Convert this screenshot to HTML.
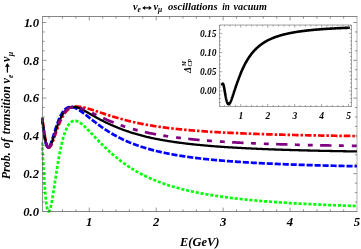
<!DOCTYPE html>
<html><head><meta charset="utf-8"><title>plot</title>
<style>html,body{margin:0;padding:0;background:#fff;width:361px;height:249px;overflow:hidden;font-family:"Liberation Serif",serif}</style>
</head><body>
<svg width="361" height="249" viewBox="0 0 361 249" style="position:absolute;left:0;top:0;will-change:transform">
<rect width="361" height="249" fill="#fff"/>
<defs><clipPath id="c"><rect x="40.9" y="16.5" width="316.7" height="197.0"/></clipPath><clipPath id="ci"><rect x="219.5" y="25.0" width="132.0" height="81.5"/></clipPath></defs>
<g clip-path="url(#c)" fill="none" stroke-linejoin="round">
<path d="M41.95,141.15 L42.13,144.18 L42.32,147.29 L42.50,150.45 L42.68,153.64 L42.86,156.83 L43.05,160.02 L43.23,163.18 L43.41,166.29 L43.59,169.36 L43.78,172.35 L43.96,175.27 L44.14,178.10 L44.32,180.83 L44.51,183.47 L44.69,185.99 L44.87,188.40 L45.05,190.70 L45.24,192.87 L45.42,194.92 L45.60,196.85 L45.78,198.65 L45.97,200.33 L46.15,201.88 L46.33,203.30 L46.52,204.61 L46.70,205.79 L46.88,206.85 L47.06,207.80 L47.25,208.63 L47.43,209.35 L47.61,209.96 L47.79,210.46 L47.98,210.86 L48.16,211.16 L48.34,211.36 L48.52,211.47 L48.71,211.50 L48.89,211.43 L49.07,211.29 L49.25,211.07 L49.44,210.77 L49.62,210.40 L49.80,209.97 L49.99,209.46 L50.17,208.90 L50.35,208.28 L50.53,207.61 L50.72,206.89 L50.90,206.12 L51.08,205.30 L51.26,204.44 L51.45,203.54 L51.63,202.61 L51.81,201.64 L51.99,200.65 L52.18,199.62 L52.36,198.57 L52.54,197.49 L52.72,196.40 L52.91,195.28 L53.09,194.15 L53.27,193.00 L53.46,191.84 L53.64,190.66 L53.82,189.48 L54.00,188.29 L54.19,187.09 L54.37,185.89 L54.55,184.68 L54.73,183.47 L54.92,182.26 L55.10,181.06 L55.28,179.85 L55.46,178.64 L55.65,177.44 L55.83,176.25 L56.01,175.06 L56.19,173.87 L56.38,172.69 L56.56,171.53 L56.74,170.36 L56.93,169.21 L57.11,168.07 L57.29,166.94 L57.47,165.82 L57.66,164.72 L57.84,163.62 L58.02,162.54 L58.20,161.47 L58.39,160.41 L58.57,159.37 L58.75,158.34 L58.93,157.33 L59.12,156.33 L59.30,155.34 L59.48,154.37 L59.66,153.41 L59.85,152.47 L60.03,151.55 L60.21,150.64 L60.40,149.75 L60.58,148.87 L60.76,148.00 L60.94,147.16 L61.13,146.33 L61.31,145.51 L61.49,144.71 L61.67,143.93 L61.86,143.16 L62.04,142.40 L62.22,141.67 L62.40,140.94 L62.59,140.24 L62.77,139.55 L62.95,138.87 L63.13,138.21 L63.32,137.56 L63.50,136.93 L63.68,136.32 L63.86,135.72 L64.05,135.13 L64.23,134.56 L64.41,134.00 L64.60,133.46 L64.78,132.93 L64.96,132.41 L65.14,131.91 L65.33,131.42 L65.51,130.95 L65.69,130.49 L65.87,130.04 L66.06,129.60 L66.24,129.18 L66.42,128.77 L66.60,128.37 L66.79,127.99 L66.97,127.61 L67.15,127.25 L67.33,126.90 L67.52,126.57 L67.70,126.24 L67.88,125.93 L68.07,125.62 L68.25,125.33 L68.43,125.05 L68.61,124.78 L68.80,124.52 L68.98,124.27 L69.16,124.03 L69.34,123.80 L69.53,123.57 L69.71,123.36 L69.89,123.16 L70.07,122.97 L70.26,122.79 L70.44,122.61 L70.62,122.45 L70.80,122.29 L70.99,122.15 L71.17,122.01 L71.35,121.88 L71.54,121.75 L71.72,121.64 L71.90,121.53 L72.08,121.43 L72.27,121.34 L72.45,121.26 L72.63,121.18 L72.81,121.11 L73.00,121.05 L73.18,120.99 L73.36,120.94 L73.54,120.90 L73.73,120.86 L73.91,120.83 L74.09,120.81 L74.27,120.79 L74.46,120.78 L74.64,120.78 L74.82,120.78 L75.01,120.78 L75.19,120.79 L75.37,120.81 L75.55,120.83 L75.74,120.86 L75.92,120.89 L76.10,120.93 L76.28,120.97 L76.47,121.02 L76.65,121.07 L76.83,121.12 L77.01,121.18 L77.20,121.25 L77.38,121.32 L77.56,121.39 L77.74,121.47 L77.93,121.55 L78.11,121.63 L78.29,121.72 L78.48,121.81 L78.66,121.91 L78.84,122.01 L79.02,122.11 L79.21,122.22 L79.39,122.32 L79.57,122.44 L79.75,122.55 L79.94,122.67 L80.12,122.79 L80.30,122.91 L80.48,123.04 L80.67,123.17 L80.85,123.30 L81.03,123.43 L81.21,123.57 L81.40,123.71 L81.58,123.85 L81.76,123.99 L81.94,124.14 L82.13,124.29 L82.31,124.44 L82.49,124.59 L82.68,124.74 L82.86,124.90 L83.04,125.05 L83.22,125.21 L83.41,125.37 L83.59,125.53 L83.77,125.70 L83.95,125.86 L84.14,126.03 L84.32,126.20 L84.50,126.36 L84.68,126.53 L84.87,126.71 L85.05,126.88 L85.23,127.05 L85.41,127.23 L85.60,127.40 L85.78,127.58 L85.96,127.76 L86.15,127.94 L86.33,128.11 L86.51,128.29 L86.69,128.48 L86.88,128.66 L87.06,128.84 L87.24,129.02 L87.42,129.21 L87.61,129.39 L87.79,129.58 L87.97,129.76 L88.15,129.95 L88.34,130.13 L88.52,130.32 L88.70,130.51 L88.88,130.70 L89.07,130.88 L89.25,131.07 L90.15,132.01 L91.04,132.95 L91.94,133.90 L92.83,134.85 L93.73,135.80 L94.62,136.76 L95.52,137.71 L96.42,138.65 L97.31,139.59 L98.21,140.53 L99.10,141.46 L100.00,142.38 L100.89,143.30 L101.79,144.20 L102.68,145.10 L103.58,145.98 L104.48,146.86 L105.37,147.73 L106.27,148.58 L107.16,149.43 L108.06,150.27 L108.95,151.09 L109.85,151.91 L110.75,152.71 L111.64,153.50 L112.54,154.29 L113.43,155.06 L114.33,155.82 L115.22,156.57 L116.12,157.31 L117.02,158.04 L117.91,158.76 L118.81,159.47 L119.70,160.17 L120.60,160.85 L121.49,161.53 L122.39,162.20 L123.28,162.86 L124.18,163.50 L125.08,164.14 L125.97,164.77 L126.87,165.38 L127.76,165.99 L128.66,166.59 L129.55,167.18 L130.45,167.76 L131.35,168.33 L132.24,168.89 L133.14,169.44 L134.03,169.98 L134.93,170.51 L135.82,171.04 L136.72,171.55 L137.62,172.06 L138.51,172.56 L139.41,173.05 L140.30,173.53 L141.20,174.00 L142.09,174.47 L142.99,174.93 L143.88,175.38 L144.78,175.82 L145.68,176.26 L146.57,176.68 L147.47,177.11 L148.36,177.52 L149.26,177.93 L150.15,178.33 L151.05,178.72 L151.95,179.11 L152.84,179.49 L153.74,179.87 L154.63,180.24 L155.53,180.60 L156.42,180.96 L157.32,181.31 L158.22,181.66 L159.11,182.00 L160.01,182.33 L160.90,182.66 L161.80,182.99 L162.69,183.31 L163.59,183.62 L164.48,183.93 L165.38,184.24 L166.28,184.54 L167.17,184.83 L168.07,185.12 L168.96,185.41 L169.86,185.69 L170.75,185.97 L171.65,186.24 L172.55,186.51 L173.44,186.78 L174.34,187.04 L175.23,187.29 L176.13,187.55 L177.02,187.80 L177.92,188.04 L178.82,188.28 L179.71,188.52 L180.61,188.76 L181.50,188.99 L182.40,189.22 L183.29,189.44 L184.19,189.67 L185.08,189.88 L185.98,190.10 L186.88,190.31 L187.77,190.52 L188.67,190.73 L189.56,190.93 L190.46,191.13 L191.35,191.33 L192.25,191.52 L193.15,191.72 L194.04,191.91 L194.94,192.09 L195.83,192.28 L196.73,192.46 L197.62,192.64 L198.52,192.82 L199.42,192.99 L200.31,193.16 L201.21,193.33 L202.10,193.50 L203.00,193.67 L203.89,193.83 L204.79,193.99 L205.68,194.15 L206.58,194.30 L207.48,194.46 L208.37,194.61 L209.27,194.76 L210.16,194.91 L211.06,195.06 L211.95,195.20 L212.85,195.35 L213.75,195.49 L214.64,195.63 L215.54,195.77 L216.43,195.90 L217.33,196.04 L218.22,196.17 L219.12,196.30 L220.02,196.43 L220.91,196.56 L221.81,196.68 L222.70,196.81 L223.60,196.93 L224.49,197.05 L225.39,197.17 L226.28,197.29 L227.18,197.41 L228.08,197.52 L228.97,197.64 L229.87,197.75 L230.76,197.86 L231.66,197.97 L232.55,198.08 L233.45,198.19 L234.35,198.29 L235.24,198.40 L236.14,198.50 L237.03,198.61 L237.93,198.71 L238.82,198.81 L239.72,198.91 L240.62,199.01 L241.51,199.10 L242.41,199.20 L243.30,199.29 L244.20,199.39 L245.09,199.48 L245.99,199.57 L246.88,199.66 L247.78,199.75 L248.68,199.84 L249.57,199.93 L250.47,200.01 L251.36,200.10 L252.26,200.19 L253.15,200.27 L254.05,200.35 L254.95,200.43 L255.84,200.52 L256.74,200.60 L257.63,200.67 L258.53,200.75 L259.42,200.83 L260.32,200.91 L261.22,200.98 L262.11,201.06 L263.01,201.13 L263.90,201.21 L264.80,201.28 L265.69,201.35 L266.59,201.42 L267.48,201.49 L268.38,201.56 L269.28,201.63 L270.17,201.70 L271.07,201.77 L271.96,201.84 L272.86,201.90 L273.75,201.97 L274.65,202.03 L275.55,202.10 L276.44,202.16 L277.34,202.23 L278.23,202.29 L279.13,202.35 L280.02,202.41 L280.92,202.47 L281.82,202.53 L282.71,202.59 L283.61,202.65 L284.50,202.71 L285.40,202.77 L286.29,202.82 L287.19,202.88 L288.08,202.94 L288.98,202.99 L289.88,203.05 L290.77,203.10 L291.67,203.16 L292.56,203.21 L293.46,203.26 L294.35,203.31 L295.25,203.37 L296.15,203.42 L297.04,203.47 L297.94,203.52 L298.83,203.57 L299.73,203.62 L300.62,203.67 L301.52,203.72 L302.42,203.77 L303.31,203.81 L304.21,203.86 L305.10,203.91 L306.00,203.95 L306.89,204.00 L307.79,204.05 L308.68,204.09 L309.58,204.14 L310.48,204.18 L311.37,204.22 L312.27,204.27 L313.16,204.31 L314.06,204.35 L314.95,204.40 L315.85,204.44 L316.75,204.48 L317.64,204.52 L318.54,204.56 L319.43,204.60 L320.33,204.64 L321.22,204.68 L322.12,204.72 L323.02,204.76 L323.91,204.80 L324.81,204.84 L325.70,204.88 L326.60,204.92 L327.49,204.95 L328.39,204.99 L329.28,205.03 L330.18,205.07 L331.08,205.10 L331.97,205.14 L332.87,205.17 L333.76,205.21 L334.66,205.24 L335.55,205.28 L336.45,205.31 L337.35,205.35 L338.24,205.38 L339.14,205.42 L340.03,205.45 L340.93,205.48 L341.82,205.52 L342.72,205.55 L343.62,205.58 L344.51,205.61 L345.41,205.64 L346.30,205.68 L347.20,205.71 L348.09,205.74 L348.99,205.77 L349.88,205.80 L350.78,205.83 L351.68,205.86 L352.57,205.89 L353.47,205.92 L354.36,205.95 L355.26,205.98 L356.15,206.01 L357.05,206.04" stroke="#00ff00" stroke-width="2.7" stroke-dasharray="3.05 1.88" stroke-dashoffset="3.6"/>
<path d="M42.22,117.27 L42.40,118.63 L42.58,120.01 L42.76,121.40 L42.94,122.80 L43.13,124.20 L43.31,125.58 L43.49,126.95 L43.67,128.30 L43.85,129.62 L44.03,130.91 L44.22,132.17 L44.40,133.38 L44.58,134.55 L44.76,135.67 L44.94,136.75 L45.12,137.78 L45.30,138.76 L45.49,139.68 L45.67,140.55 L45.85,141.37 L46.03,142.14 L46.21,142.85 L46.39,143.51 L46.58,144.11 L46.76,144.67 L46.94,145.17 L47.12,145.62 L47.30,146.02 L47.48,146.37 L47.67,146.68 L47.85,146.94 L48.03,147.15 L48.21,147.32 L48.39,147.45 L48.57,147.54 L48.75,147.59 L48.94,147.60 L49.12,147.57 L49.30,147.51 L49.48,147.42 L49.66,147.29 L49.84,147.14 L50.03,146.95 L50.21,146.74 L50.39,146.50 L50.57,146.24 L50.75,145.96 L50.93,145.65 L51.12,145.32 L51.30,144.97 L51.48,144.61 L51.66,144.22 L51.84,143.82 L52.02,143.41 L52.21,142.98 L52.39,142.55 L52.57,142.10 L52.75,141.64 L52.93,141.17 L53.11,140.69 L53.29,140.20 L53.48,139.71 L53.66,139.21 L53.84,138.70 L54.02,138.19 L54.20,137.68 L54.38,137.16 L54.57,136.64 L54.75,136.12 L54.93,135.60 L55.11,135.07 L55.29,134.55 L55.47,134.02 L55.66,133.50 L55.84,132.97 L56.02,132.45 L56.20,131.93 L56.38,131.41 L56.56,130.90 L56.74,130.39 L56.93,129.88 L57.11,129.37 L57.29,128.87 L57.47,128.37 L57.65,127.88 L57.83,127.39 L58.02,126.90 L58.20,126.43 L58.38,125.95 L58.56,125.48 L58.74,125.02 L58.92,124.56 L59.11,124.11 L59.29,123.66 L59.47,123.22 L59.65,122.79 L59.83,122.36 L60.01,121.94 L60.20,121.52 L60.38,121.11 L60.56,120.71 L60.74,120.32 L60.92,119.93 L61.10,119.54 L61.28,119.17 L61.47,118.80 L61.65,118.43 L61.83,118.08 L62.01,117.73 L62.19,117.38 L62.37,117.04 L62.56,116.71 L62.74,116.39 L62.92,116.07 L63.10,115.76 L63.28,115.46 L63.46,115.16 L63.65,114.87 L63.83,114.58 L64.01,114.30 L64.19,114.03 L64.37,113.76 L64.55,113.50 L64.74,113.25 L64.92,113.00 L65.10,112.76 L65.28,112.52 L65.46,112.29 L65.64,112.07 L65.82,111.85 L66.01,111.63 L66.19,111.43 L66.37,111.23 L66.55,111.03 L66.73,110.84 L66.91,110.65 L67.10,110.47 L67.28,110.30 L67.46,110.13 L67.64,109.97 L67.82,109.81 L68.00,109.65 L68.19,109.50 L68.37,109.36 L68.55,109.22 L68.73,109.08 L68.91,108.95 L69.09,108.83 L69.27,108.71 L69.46,108.59 L69.64,108.48 L69.82,108.37 L70.00,108.26 L70.18,108.16 L70.36,108.07 L70.55,107.98 L70.73,107.89 L70.91,107.80 L71.09,107.72 L71.27,107.64 L71.45,107.57 L71.64,107.50 L71.82,107.43 L72.00,107.37 L72.18,107.31 L72.36,107.25 L72.54,107.20 L72.73,107.15 L72.91,107.10 L73.09,107.06 L73.27,107.01 L73.45,106.97 L73.63,106.94 L73.81,106.90 L74.00,106.87 L74.18,106.84 L74.36,106.82 L74.54,106.79 L74.72,106.77 L74.90,106.75 L75.09,106.73 L75.27,106.72 L75.45,106.70 L75.63,106.69 L75.81,106.68 L75.99,106.67 L76.18,106.67 L76.36,106.66 L76.54,106.66 L76.72,106.66 L76.90,106.66 L77.08,106.66 L77.26,106.67 L77.45,106.67 L77.63,106.68 L77.81,106.68 L77.99,106.69 L78.17,106.70 L78.35,106.71 L78.54,106.73 L78.72,106.74 L78.90,106.75 L79.08,106.77 L79.26,106.78 L79.44,106.80 L79.63,106.82 L79.81,106.84 L79.99,106.86 L80.17,106.88 L80.35,106.90 L80.53,106.93 L80.72,106.95 L80.90,106.97 L81.08,107.00 L81.26,107.03 L81.44,107.06 L81.62,107.09 L81.80,107.12 L81.99,107.15 L82.17,107.18 L82.35,107.22 L82.53,107.25 L82.71,107.29 L82.89,107.32 L83.08,107.36 L83.26,107.40 L83.44,107.43 L83.62,107.47 L83.80,107.51 L83.98,107.55 L84.17,107.60 L84.35,107.64 L84.53,107.68 L84.71,107.72 L84.89,107.77 L85.07,107.81 L85.25,107.86 L85.44,107.90 L85.62,107.95 L85.80,108.00 L85.98,108.04 L86.16,108.09 L86.34,108.14 L86.53,108.19 L86.71,108.24 L86.89,108.29 L87.07,108.34 L87.25,108.39 L87.43,108.44 L87.62,108.49 L87.80,108.54 L87.98,108.59 L88.16,108.65 L88.34,108.70 L88.52,108.75 L88.71,108.81 L88.89,108.86 L89.07,108.91 L89.25,108.97 L90.15,109.24 L91.04,109.52 L91.94,109.80 L92.83,110.09 L93.73,110.38 L94.62,110.67 L95.52,110.96 L96.42,111.25 L97.31,111.55 L98.21,111.85 L99.10,112.14 L100.00,112.44 L100.89,112.73 L101.79,113.03 L102.68,113.32 L103.58,113.61 L104.48,113.90 L105.37,114.19 L106.27,114.48 L107.16,114.77 L108.06,115.06 L108.95,115.34 L109.85,115.62 L110.75,115.90 L111.64,116.18 L112.54,116.45 L113.43,116.73 L114.33,117.00 L115.22,117.26 L116.12,117.53 L117.02,117.79 L117.91,118.05 L118.81,118.31 L119.70,118.56 L120.60,118.81 L121.49,119.06 L122.39,119.31 L123.28,119.55 L124.18,119.79 L125.08,120.03 L125.97,120.26 L126.87,120.49 L127.76,120.71 L128.66,120.94 L129.55,121.16 L130.45,121.37 L131.35,121.59 L132.24,121.80 L133.14,122.00 L134.03,122.21 L134.93,122.41 L135.82,122.61 L136.72,122.80 L137.62,122.99 L138.51,123.18 L139.41,123.37 L140.30,123.55 L141.20,123.73 L142.09,123.91 L142.99,124.08 L143.88,124.25 L144.78,124.42 L145.68,124.59 L146.57,124.75 L147.47,124.91 L148.36,125.07 L149.26,125.22 L150.15,125.38 L151.05,125.53 L151.95,125.67 L152.84,125.82 L153.74,125.96 L154.63,126.10 L155.53,126.24 L156.42,126.38 L157.32,126.51 L158.22,126.65 L159.11,126.78 L160.01,126.91 L160.90,127.03 L161.80,127.16 L162.69,127.28 L163.59,127.40 L164.48,127.52 L165.38,127.63 L166.28,127.75 L167.17,127.86 L168.07,127.97 L168.96,128.08 L169.86,128.19 L170.75,128.30 L171.65,128.40 L172.55,128.51 L173.44,128.61 L174.34,128.71 L175.23,128.81 L176.13,128.91 L177.02,129.00 L177.92,129.10 L178.82,129.19 L179.71,129.28 L180.61,129.37 L181.50,129.46 L182.40,129.55 L183.29,129.64 L184.19,129.72 L185.08,129.81 L185.98,129.89 L186.88,129.97 L187.77,130.05 L188.67,130.13 L189.56,130.21 L190.46,130.29 L191.35,130.36 L192.25,130.44 L193.15,130.51 L194.04,130.58 L194.94,130.66 L195.83,130.73 L196.73,130.80 L197.62,130.87 L198.52,130.94 L199.42,131.00 L200.31,131.07 L201.21,131.13 L202.10,131.20 L203.00,131.26 L203.89,131.33 L204.79,131.39 L205.68,131.45 L206.58,131.51 L207.48,131.57 L208.37,131.63 L209.27,131.69 L210.16,131.74 L211.06,131.80 L211.95,131.86 L212.85,131.91 L213.75,131.97 L214.64,132.02 L215.54,132.07 L216.43,132.13 L217.33,132.18 L218.22,132.23 L219.12,132.28 L220.02,132.33 L220.91,132.38 L221.81,132.43 L222.70,132.48 L223.60,132.53 L224.49,132.57 L225.39,132.62 L226.28,132.66 L227.18,132.71 L228.08,132.75 L228.97,132.80 L229.87,132.84 L230.76,132.89 L231.66,132.93 L232.55,132.97 L233.45,133.01 L234.35,133.05 L235.24,133.09 L236.14,133.13 L237.03,133.17 L237.93,133.21 L238.82,133.25 L239.72,133.29 L240.62,133.33 L241.51,133.37 L242.41,133.40 L243.30,133.44 L244.20,133.48 L245.09,133.51 L245.99,133.55 L246.88,133.58 L247.78,133.62 L248.68,133.65 L249.57,133.69 L250.47,133.72 L251.36,133.75 L252.26,133.79 L253.15,133.82 L254.05,133.85 L254.95,133.88 L255.84,133.91 L256.74,133.95 L257.63,133.98 L258.53,134.01 L259.42,134.04 L260.32,134.07 L261.22,134.10 L262.11,134.13 L263.01,134.15 L263.90,134.18 L264.80,134.21 L265.69,134.24 L266.59,134.27 L267.48,134.29 L268.38,134.32 L269.28,134.35 L270.17,134.37 L271.07,134.40 L271.96,134.43 L272.86,134.45 L273.75,134.48 L274.65,134.50 L275.55,134.53 L276.44,134.55 L277.34,134.58 L278.23,134.60 L279.13,134.63 L280.02,134.65 L280.92,134.67 L281.82,134.70 L282.71,134.72 L283.61,134.74 L284.50,134.77 L285.40,134.79 L286.29,134.81 L287.19,134.83 L288.08,134.85 L288.98,134.88 L289.88,134.90 L290.77,134.92 L291.67,134.94 L292.56,134.96 L293.46,134.98 L294.35,135.00 L295.25,135.02 L296.15,135.04 L297.04,135.06 L297.94,135.08 L298.83,135.10 L299.73,135.12 L300.62,135.14 L301.52,135.16 L302.42,135.18 L303.31,135.19 L304.21,135.21 L305.10,135.23 L306.00,135.25 L306.89,135.27 L307.79,135.28 L308.68,135.30 L309.58,135.32 L310.48,135.34 L311.37,135.35 L312.27,135.37 L313.16,135.39 L314.06,135.40 L314.95,135.42 L315.85,135.44 L316.75,135.45 L317.64,135.47 L318.54,135.49 L319.43,135.50 L320.33,135.52 L321.22,135.53 L322.12,135.55 L323.02,135.56 L323.91,135.58 L324.81,135.59 L325.70,135.61 L326.60,135.62 L327.49,135.64 L328.39,135.65 L329.28,135.67 L330.18,135.68 L331.08,135.70 L331.97,135.71 L332.87,135.72 L333.76,135.74 L334.66,135.75 L335.55,135.76 L336.45,135.78 L337.35,135.79 L338.24,135.80 L339.14,135.82 L340.03,135.83 L340.93,135.84 L341.82,135.86 L342.72,135.87 L343.62,135.88 L344.51,135.89 L345.41,135.91 L346.30,135.92 L347.20,135.93 L348.09,135.94 L348.99,135.96 L349.88,135.97 L350.78,135.98 L351.68,135.99 L352.57,136.00 L353.47,136.01 L354.36,136.03 L355.26,136.04 L356.15,136.05 L357.05,136.06" stroke="#ff0000" stroke-width="2.7" stroke-dasharray="6.6 1.95 2.5 1.9" stroke-dashoffset="8.46"/>
<path d="M42.22,119.98 L42.40,121.43 L42.58,122.90 L42.76,124.36 L42.94,125.81 L43.13,127.24 L43.31,128.65 L43.49,130.03 L43.67,131.37 L43.85,132.67 L44.03,133.92 L44.22,135.13 L44.40,136.28 L44.58,137.38 L44.76,138.42 L44.94,139.41 L45.12,140.33 L45.30,141.20 L45.49,142.01 L45.67,142.75 L45.85,143.44 L46.03,144.06 L46.21,144.63 L46.39,145.14 L46.58,145.59 L46.76,145.98 L46.94,146.32 L47.12,146.61 L47.30,146.84 L47.48,147.02 L47.67,147.15 L47.85,147.24 L48.03,147.28 L48.21,147.27 L48.39,147.23 L48.57,147.14 L48.75,147.01 L48.94,146.85 L49.12,146.65 L49.30,146.42 L49.48,146.16 L49.66,145.87 L49.84,145.55 L50.03,145.20 L50.21,144.83 L50.39,144.43 L50.57,144.02 L50.75,143.58 L50.93,143.13 L51.12,142.66 L51.30,142.17 L51.48,141.67 L51.66,141.15 L51.84,140.62 L52.02,140.08 L52.21,139.54 L52.39,138.98 L52.57,138.42 L52.75,137.85 L52.93,137.27 L53.11,136.69 L53.29,136.11 L53.48,135.52 L53.66,134.93 L53.84,134.34 L54.02,133.75 L54.20,133.16 L54.38,132.57 L54.57,131.98 L54.75,131.39 L54.93,130.81 L55.11,130.23 L55.29,129.65 L55.47,129.08 L55.66,128.51 L55.84,127.95 L56.02,127.39 L56.20,126.83 L56.38,126.29 L56.56,125.75 L56.74,125.21 L56.93,124.68 L57.11,124.16 L57.29,123.65 L57.47,123.14 L57.65,122.64 L57.83,122.15 L58.02,121.67 L58.20,121.19 L58.38,120.72 L58.56,120.26 L58.74,119.81 L58.92,119.37 L59.11,118.93 L59.29,118.51 L59.47,118.09 L59.65,117.68 L59.83,117.28 L60.01,116.89 L60.20,116.51 L60.38,116.13 L60.56,115.77 L60.74,115.41 L60.92,115.06 L61.10,114.72 L61.28,114.39 L61.47,114.07 L61.65,113.75 L61.83,113.45 L62.01,113.15 L62.19,112.86 L62.37,112.58 L62.56,112.31 L62.74,112.04 L62.92,111.78 L63.10,111.53 L63.28,111.29 L63.46,111.06 L63.65,110.83 L63.83,110.61 L64.01,110.40 L64.19,110.20 L64.37,110.00 L64.55,109.81 L64.74,109.63 L64.92,109.45 L65.10,109.29 L65.28,109.12 L65.46,108.97 L65.64,108.82 L65.82,108.68 L66.01,108.54 L66.19,108.42 L66.37,108.29 L66.55,108.18 L66.73,108.07 L66.91,107.96 L67.10,107.86 L67.28,107.77 L67.46,107.68 L67.64,107.60 L67.82,107.53 L68.00,107.45 L68.19,107.39 L68.37,107.33 L68.55,107.27 L68.73,107.22 L68.91,107.18 L69.09,107.14 L69.27,107.10 L69.46,107.07 L69.64,107.04 L69.82,107.02 L70.00,107.00 L70.18,106.99 L70.36,106.98 L70.55,106.98 L70.73,106.97 L70.91,106.98 L71.09,106.98 L71.27,106.99 L71.45,107.01 L71.64,107.03 L71.82,107.05 L72.00,107.07 L72.18,107.10 L72.36,107.13 L72.54,107.17 L72.73,107.21 L72.91,107.25 L73.09,107.29 L73.27,107.34 L73.45,107.39 L73.63,107.44 L73.81,107.50 L74.00,107.56 L74.18,107.62 L74.36,107.68 L74.54,107.75 L74.72,107.82 L74.90,107.89 L75.09,107.96 L75.27,108.04 L75.45,108.12 L75.63,108.20 L75.81,108.28 L75.99,108.37 L76.18,108.45 L76.36,108.54 L76.54,108.63 L76.72,108.73 L76.90,108.82 L77.08,108.92 L77.26,109.01 L77.45,109.11 L77.63,109.22 L77.81,109.32 L77.99,109.42 L78.17,109.53 L78.35,109.64 L78.54,109.75 L78.72,109.86 L78.90,109.97 L79.08,110.08 L79.26,110.20 L79.44,110.31 L79.63,110.43 L79.81,110.55 L79.99,110.67 L80.17,110.79 L80.35,110.91 L80.53,111.03 L80.72,111.15 L80.90,111.28 L81.08,111.40 L81.26,111.53 L81.44,111.66 L81.62,111.79 L81.80,111.92 L81.99,112.04 L82.17,112.18 L82.35,112.31 L82.53,112.44 L82.71,112.57 L82.89,112.70 L83.08,112.84 L83.26,112.97 L83.44,113.11 L83.62,113.24 L83.80,113.38 L83.98,113.52 L84.17,113.65 L84.35,113.79 L84.53,113.93 L84.71,114.07 L84.89,114.21 L85.07,114.35 L85.25,114.49 L85.44,114.63 L85.62,114.77 L85.80,114.91 L85.98,115.05 L86.16,115.19 L86.34,115.33 L86.53,115.47 L86.71,115.61 L86.89,115.76 L87.07,115.90 L87.25,116.04 L87.43,116.18 L87.62,116.33 L87.80,116.47 L87.98,116.61 L88.16,116.76 L88.34,116.90 L88.52,117.04 L88.71,117.19 L88.89,117.33 L89.07,117.47 L89.25,117.62 L90.15,118.32 L91.04,119.03 L91.94,119.74 L92.83,120.44 L93.73,121.14 L94.62,121.83 L95.52,122.52 L96.42,123.20 L97.31,123.87 L98.21,124.54 L99.10,125.20 L100.00,125.85 L100.89,126.49 L101.79,127.13 L102.68,127.75 L103.58,128.37 L104.48,128.98 L105.37,129.57 L106.27,130.16 L107.16,130.74 L108.06,131.31 L108.95,131.88 L109.85,132.43 L110.75,132.97 L111.64,133.50 L112.54,134.03 L113.43,134.55 L114.33,135.05 L115.22,135.55 L116.12,136.04 L117.02,136.52 L117.91,136.99 L118.81,137.46 L119.70,137.91 L120.60,138.36 L121.49,138.80 L122.39,139.23 L123.28,139.66 L124.18,140.07 L125.08,140.48 L125.97,140.88 L126.87,141.28 L127.76,141.66 L128.66,142.04 L129.55,142.42 L130.45,142.78 L131.35,143.14 L132.24,143.50 L133.14,143.84 L134.03,144.18 L134.93,144.52 L135.82,144.85 L136.72,145.17 L137.62,145.49 L138.51,145.80 L139.41,146.11 L140.30,146.41 L141.20,146.70 L142.09,146.99 L142.99,147.28 L143.88,147.56 L144.78,147.83 L145.68,148.10 L146.57,148.37 L147.47,148.63 L148.36,148.89 L149.26,149.14 L150.15,149.39 L151.05,149.63 L151.95,149.87 L152.84,150.11 L153.74,150.34 L154.63,150.57 L155.53,150.79 L156.42,151.01 L157.32,151.23 L158.22,151.44 L159.11,151.65 L160.01,151.86 L160.90,152.06 L161.80,152.26 L162.69,152.46 L163.59,152.65 L164.48,152.84 L165.38,153.03 L166.28,153.21 L167.17,153.39 L168.07,153.57 L168.96,153.75 L169.86,153.92 L170.75,154.09 L171.65,154.26 L172.55,154.42 L173.44,154.58 L174.34,154.74 L175.23,154.90 L176.13,155.06 L177.02,155.21 L177.92,155.36 L178.82,155.51 L179.71,155.65 L180.61,155.80 L181.50,155.94 L182.40,156.08 L183.29,156.21 L184.19,156.35 L185.08,156.48 L185.98,156.61 L186.88,156.74 L187.77,156.87 L188.67,157.00 L189.56,157.12 L190.46,157.24 L191.35,157.36 L192.25,157.48 L193.15,157.60 L194.04,157.71 L194.94,157.83 L195.83,157.94 L196.73,158.05 L197.62,158.16 L198.52,158.27 L199.42,158.37 L200.31,158.48 L201.21,158.58 L202.10,158.68 L203.00,158.78 L203.89,158.88 L204.79,158.98 L205.68,159.08 L206.58,159.17 L207.48,159.26 L208.37,159.36 L209.27,159.45 L210.16,159.54 L211.06,159.63 L211.95,159.72 L212.85,159.80 L213.75,159.89 L214.64,159.97 L215.54,160.06 L216.43,160.14 L217.33,160.22 L218.22,160.30 L219.12,160.38 L220.02,160.46 L220.91,160.53 L221.81,160.61 L222.70,160.69 L223.60,160.76 L224.49,160.83 L225.39,160.91 L226.28,160.98 L227.18,161.05 L228.08,161.12 L228.97,161.19 L229.87,161.26 L230.76,161.32 L231.66,161.39 L232.55,161.46 L233.45,161.52 L234.35,161.59 L235.24,161.65 L236.14,161.71 L237.03,161.78 L237.93,161.84 L238.82,161.90 L239.72,161.96 L240.62,162.02 L241.51,162.08 L242.41,162.13 L243.30,162.19 L244.20,162.25 L245.09,162.30 L245.99,162.36 L246.88,162.41 L247.78,162.47 L248.68,162.52 L249.57,162.57 L250.47,162.63 L251.36,162.68 L252.26,162.73 L253.15,162.78 L254.05,162.83 L254.95,162.88 L255.84,162.93 L256.74,162.98 L257.63,163.02 L258.53,163.07 L259.42,163.12 L260.32,163.16 L261.22,163.21 L262.11,163.26 L263.01,163.30 L263.90,163.35 L264.80,163.39 L265.69,163.43 L266.59,163.48 L267.48,163.52 L268.38,163.56 L269.28,163.60 L270.17,163.64 L271.07,163.68 L271.96,163.72 L272.86,163.76 L273.75,163.80 L274.65,163.84 L275.55,163.88 L276.44,163.92 L277.34,163.96 L278.23,164.00 L279.13,164.03 L280.02,164.07 L280.92,164.11 L281.82,164.14 L282.71,164.18 L283.61,164.21 L284.50,164.25 L285.40,164.28 L286.29,164.32 L287.19,164.35 L288.08,164.39 L288.98,164.42 L289.88,164.45 L290.77,164.49 L291.67,164.52 L292.56,164.55 L293.46,164.58 L294.35,164.61 L295.25,164.65 L296.15,164.68 L297.04,164.71 L297.94,164.74 L298.83,164.77 L299.73,164.80 L300.62,164.83 L301.52,164.86 L302.42,164.89 L303.31,164.91 L304.21,164.94 L305.10,164.97 L306.00,165.00 L306.89,165.03 L307.79,165.05 L308.68,165.08 L309.58,165.11 L310.48,165.13 L311.37,165.16 L312.27,165.19 L313.16,165.21 L314.06,165.24 L314.95,165.26 L315.85,165.29 L316.75,165.32 L317.64,165.34 L318.54,165.36 L319.43,165.39 L320.33,165.41 L321.22,165.44 L322.12,165.46 L323.02,165.48 L323.91,165.51 L324.81,165.53 L325.70,165.55 L326.60,165.58 L327.49,165.60 L328.39,165.62 L329.28,165.64 L330.18,165.67 L331.08,165.69 L331.97,165.71 L332.87,165.73 L333.76,165.75 L334.66,165.77 L335.55,165.80 L336.45,165.82 L337.35,165.84 L338.24,165.86 L339.14,165.88 L340.03,165.90 L340.93,165.92 L341.82,165.94 L342.72,165.96 L343.62,165.98 L344.51,166.00 L345.41,166.01 L346.30,166.03 L347.20,166.05 L348.09,166.07 L348.99,166.09 L349.88,166.11 L350.78,166.13 L351.68,166.14 L352.57,166.16 L353.47,166.18 L354.36,166.20 L355.26,166.22 L356.15,166.23 L357.05,166.25" stroke="#0000ff" stroke-width="2.7" stroke-dasharray="6.15 1.83" stroke-dashoffset="1.87"/>
<path d="M42.22,118.65 L42.40,120.06 L42.58,121.48 L42.76,122.91 L42.94,124.34 L43.13,125.75 L43.31,127.15 L43.49,128.52 L43.67,129.87 L43.85,131.18 L44.03,132.45 L44.22,133.68 L44.40,134.86 L44.58,135.99 L44.76,137.08 L44.94,138.11 L45.12,139.08 L45.30,140.00 L45.49,140.87 L45.67,141.68 L45.85,142.43 L46.03,143.12 L46.21,143.76 L46.39,144.34 L46.58,144.87 L46.76,145.34 L46.94,145.76 L47.12,146.12 L47.30,146.44 L47.48,146.70 L47.67,146.92 L47.85,147.09 L48.03,147.22 L48.21,147.30 L48.39,147.34 L48.57,147.33 L48.75,147.29 L48.94,147.22 L49.12,147.10 L49.30,146.96 L49.48,146.78 L49.66,146.57 L49.84,146.33 L50.03,146.06 L50.21,145.77 L50.39,145.45 L50.57,145.11 L50.75,144.74 L50.93,144.36 L51.12,143.96 L51.30,143.54 L51.48,143.11 L51.66,142.66 L51.84,142.19 L52.02,141.71 L52.21,141.23 L52.39,140.73 L52.57,140.22 L52.75,139.70 L52.93,139.18 L53.11,138.65 L53.29,138.11 L53.48,137.57 L53.66,137.02 L53.84,136.47 L54.02,135.92 L54.20,135.37 L54.38,134.81 L54.57,134.26 L54.75,133.70 L54.93,133.15 L55.11,132.59 L55.29,132.04 L55.47,131.49 L55.66,130.94 L55.84,130.40 L56.02,129.86 L56.20,129.32 L56.38,128.78 L56.56,128.25 L56.74,127.73 L56.93,127.21 L57.11,126.70 L57.29,126.19 L57.47,125.68 L57.65,125.19 L57.83,124.70 L58.02,124.21 L58.20,123.73 L58.38,123.26 L58.56,122.79 L58.74,122.34 L58.92,121.88 L59.11,121.44 L59.29,121.00 L59.47,120.57 L59.65,120.15 L59.83,119.73 L60.01,119.33 L60.20,118.93 L60.38,118.53 L60.56,118.15 L60.74,117.77 L60.92,117.40 L61.10,117.03 L61.28,116.68 L61.47,116.33 L61.65,115.99 L61.83,115.66 L62.01,115.33 L62.19,115.01 L62.37,114.70 L62.56,114.39 L62.74,114.10 L62.92,113.81 L63.10,113.52 L63.28,113.25 L63.46,112.98 L63.65,112.72 L63.83,112.46 L64.01,112.21 L64.19,111.97 L64.37,111.74 L64.55,111.51 L64.74,111.29 L64.92,111.07 L65.10,110.86 L65.28,110.66 L65.46,110.47 L65.64,110.28 L65.82,110.09 L66.01,109.91 L66.19,109.74 L66.37,109.58 L66.55,109.41 L66.73,109.26 L66.91,109.11 L67.10,108.97 L67.28,108.83 L67.46,108.70 L67.64,108.57 L67.82,108.45 L68.00,108.33 L68.19,108.22 L68.37,108.11 L68.55,108.01 L68.73,107.91 L68.91,107.82 L69.09,107.73 L69.27,107.64 L69.46,107.56 L69.64,107.49 L69.82,107.42 L70.00,107.35 L70.18,107.29 L70.36,107.23 L70.55,107.18 L70.73,107.13 L70.91,107.08 L71.09,107.04 L71.27,107.00 L71.45,106.97 L71.64,106.94 L71.82,106.91 L72.00,106.89 L72.18,106.87 L72.36,106.85 L72.54,106.84 L72.73,106.83 L72.91,106.82 L73.09,106.82 L73.27,106.81 L73.45,106.82 L73.63,106.82 L73.81,106.83 L74.00,106.84 L74.18,106.85 L74.36,106.87 L74.54,106.89 L74.72,106.91 L74.90,106.93 L75.09,106.96 L75.27,106.99 L75.45,107.02 L75.63,107.06 L75.81,107.09 L75.99,107.13 L76.18,107.17 L76.36,107.21 L76.54,107.26 L76.72,107.31 L76.90,107.35 L77.08,107.41 L77.26,107.46 L77.45,107.51 L77.63,107.57 L77.81,107.63 L77.99,107.69 L78.17,107.75 L78.35,107.81 L78.54,107.88 L78.72,107.94 L78.90,108.01 L79.08,108.08 L79.26,108.15 L79.44,108.23 L79.63,108.30 L79.81,108.38 L79.99,108.45 L80.17,108.53 L80.35,108.61 L80.53,108.69 L80.72,108.77 L80.90,108.86 L81.08,108.94 L81.26,109.02 L81.44,109.11 L81.62,109.20 L81.80,109.29 L81.99,109.38 L82.17,109.47 L82.35,109.56 L82.53,109.65 L82.71,109.74 L82.89,109.83 L83.08,109.93 L83.26,110.02 L83.44,110.12 L83.62,110.22 L83.80,110.31 L83.98,110.41 L84.17,110.51 L84.35,110.61 L84.53,110.71 L84.71,110.81 L84.89,110.91 L85.07,111.01 L85.25,111.11 L85.44,111.21 L85.62,111.31 L85.80,111.42 L85.98,111.52 L86.16,111.62 L86.34,111.73 L86.53,111.83 L86.71,111.93 L86.89,112.04 L87.07,112.14 L87.25,112.25 L87.43,112.35 L87.62,112.46 L87.80,112.56 L87.98,112.67 L88.16,112.78 L88.34,112.88 L88.52,112.99 L88.71,113.09 L88.89,113.20 L89.07,113.30 L89.25,113.41 L90.15,113.93 L91.04,114.46 L91.94,114.97 L92.83,115.49 L93.73,116.00 L94.62,116.51 L95.52,117.02 L96.42,117.52 L97.31,118.01 L98.21,118.50 L99.10,118.98 L100.00,119.46 L100.89,119.93 L101.79,120.39 L102.68,120.85 L103.58,121.30 L104.48,121.74 L105.37,122.18 L106.27,122.61 L107.16,123.04 L108.06,123.46 L108.95,123.88 L109.85,124.29 L110.75,124.69 L111.64,125.09 L112.54,125.49 L113.43,125.87 L114.33,126.26 L115.22,126.64 L116.12,127.01 L117.02,127.38 L117.91,127.74 L118.81,128.10 L119.70,128.45 L120.60,128.80 L121.49,129.14 L122.39,129.48 L123.28,129.82 L124.18,130.14 L125.08,130.47 L125.97,130.78 L126.87,131.10 L127.76,131.40 L128.66,131.71 L129.55,132.01 L130.45,132.30 L131.35,132.59 L132.24,132.87 L133.14,133.15 L134.03,133.42 L134.93,133.69 L135.82,133.96 L136.72,134.22 L137.62,134.47 L138.51,134.72 L139.41,134.97 L140.30,135.21 L141.20,135.45 L142.09,135.69 L142.99,135.92 L143.88,136.15 L144.78,136.37 L145.68,136.59 L146.57,136.80 L147.47,137.02 L148.36,137.22 L149.26,137.43 L150.15,137.63 L151.05,137.83 L151.95,138.02 L152.84,138.22 L153.74,138.40 L154.63,138.59 L155.53,138.77 L156.42,138.95 L157.32,139.13 L158.22,139.30 L159.11,139.47 L160.01,139.64 L160.90,139.81 L161.80,139.97 L162.69,140.13 L163.59,140.29 L164.48,140.44 L165.38,140.59 L166.28,140.74 L167.17,140.89 L168.07,141.04 L168.96,141.18 L169.86,141.32 L170.75,141.46 L171.65,141.60 L172.55,141.73 L173.44,141.87 L174.34,142.00 L175.23,142.12 L176.13,142.25 L177.02,142.38 L177.92,142.50 L178.82,142.62 L179.71,142.74 L180.61,142.86 L181.50,142.97 L182.40,143.09 L183.29,143.20 L184.19,143.31 L185.08,143.42 L185.98,143.53 L186.88,143.63 L187.77,143.74 L188.67,143.84 L189.56,143.94 L190.46,144.04 L191.35,144.14 L192.25,144.24 L193.15,144.34 L194.04,144.43 L194.94,144.52 L195.83,144.62 L196.73,144.71 L197.62,144.80 L198.52,144.88 L199.42,144.97 L200.31,145.06 L201.21,145.14 L202.10,145.23 L203.00,145.31 L203.89,145.39 L204.79,145.47 L205.68,145.55 L206.58,145.63 L207.48,145.70 L208.37,145.78 L209.27,145.86 L210.16,145.93 L211.06,146.00 L211.95,146.08 L212.85,146.15 L213.75,146.22 L214.64,146.29 L215.54,146.36 L216.43,146.42 L217.33,146.49 L218.22,146.56 L219.12,146.62 L220.02,146.69 L220.91,146.75 L221.81,146.81 L222.70,146.87 L223.60,146.94 L224.49,147.00 L225.39,147.06 L226.28,147.12 L227.18,147.17 L228.08,147.23 L228.97,147.29 L229.87,147.34 L230.76,147.40 L231.66,147.45 L232.55,147.51 L233.45,147.56 L234.35,147.62 L235.24,147.67 L236.14,147.72 L237.03,147.77 L237.93,147.82 L238.82,147.87 L239.72,147.92 L240.62,147.97 L241.51,148.02 L242.41,148.07 L243.30,148.11 L244.20,148.16 L245.09,148.21 L245.99,148.25 L246.88,148.30 L247.78,148.34 L248.68,148.39 L249.57,148.43 L250.47,148.47 L251.36,148.52 L252.26,148.56 L253.15,148.60 L254.05,148.64 L254.95,148.68 L255.84,148.72 L256.74,148.76 L257.63,148.80 L258.53,148.84 L259.42,148.88 L260.32,148.92 L261.22,148.95 L262.11,148.99 L263.01,149.03 L263.90,149.07 L264.80,149.10 L265.69,149.14 L266.59,149.17 L267.48,149.21 L268.38,149.24 L269.28,149.28 L270.17,149.31 L271.07,149.35 L271.96,149.38 L272.86,149.41 L273.75,149.45 L274.65,149.48 L275.55,149.51 L276.44,149.54 L277.34,149.57 L278.23,149.60 L279.13,149.63 L280.02,149.67 L280.92,149.70 L281.82,149.73 L282.71,149.75 L283.61,149.78 L284.50,149.81 L285.40,149.84 L286.29,149.87 L287.19,149.90 L288.08,149.93 L288.98,149.95 L289.88,149.98 L290.77,150.01 L291.67,150.04 L292.56,150.06 L293.46,150.09 L294.35,150.11 L295.25,150.14 L296.15,150.17 L297.04,150.19 L297.94,150.22 L298.83,150.24 L299.73,150.27 L300.62,150.29 L301.52,150.31 L302.42,150.34 L303.31,150.36 L304.21,150.39 L305.10,150.41 L306.00,150.43 L306.89,150.46 L307.79,150.48 L308.68,150.50 L309.58,150.52 L310.48,150.54 L311.37,150.57 L312.27,150.59 L313.16,150.61 L314.06,150.63 L314.95,150.65 L315.85,150.67 L316.75,150.69 L317.64,150.71 L318.54,150.73 L319.43,150.76 L320.33,150.78 L321.22,150.80 L322.12,150.81 L323.02,150.83 L323.91,150.85 L324.81,150.87 L325.70,150.89 L326.60,150.91 L327.49,150.93 L328.39,150.95 L329.28,150.97 L330.18,150.98 L331.08,151.00 L331.97,151.02 L332.87,151.04 L333.76,151.06 L334.66,151.07 L335.55,151.09 L336.45,151.11 L337.35,151.13 L338.24,151.14 L339.14,151.16 L340.03,151.18 L340.93,151.19 L341.82,151.21 L342.72,151.22 L343.62,151.24 L344.51,151.26 L345.41,151.27 L346.30,151.29 L347.20,151.30 L348.09,151.32 L348.99,151.33 L349.88,151.35 L350.78,151.36 L351.68,151.38 L352.57,151.39 L353.47,151.41 L354.36,151.42 L355.26,151.44 L356.15,151.45 L357.05,151.47" stroke="#000000" stroke-width="2.3"/>
<path d="M42.22,118.16 L42.40,119.55 L42.58,120.95 L42.76,122.37 L42.94,123.79 L43.13,125.19 L43.31,126.59 L43.49,127.96 L43.67,129.31 L43.85,130.62 L44.03,131.90 L44.22,133.13 L44.40,134.33 L44.58,135.48 L44.76,136.57 L44.94,137.62 L45.12,138.62 L45.30,139.56 L45.49,140.44 L45.67,141.27 L45.85,142.05 L46.03,142.77 L46.21,143.43 L46.39,144.04 L46.58,144.60 L46.76,145.10 L46.94,145.55 L47.12,145.94 L47.30,146.29 L47.48,146.59 L47.67,146.83 L47.85,147.04 L48.03,147.19 L48.21,147.31 L48.39,147.38 L48.57,147.41 L48.75,147.40 L48.94,147.35 L49.12,147.27 L49.30,147.15 L49.48,147.01 L49.66,146.83 L49.84,146.62 L50.03,146.38 L50.21,146.12 L50.39,145.83 L50.57,145.51 L50.75,145.18 L50.93,144.82 L51.12,144.45 L51.30,144.05 L51.48,143.64 L51.66,143.22 L51.84,142.78 L52.02,142.32 L52.21,141.86 L52.39,141.38 L52.57,140.89 L52.75,140.39 L52.93,139.89 L53.11,139.38 L53.29,138.86 L53.48,138.33 L53.66,137.80 L53.84,137.27 L54.02,136.73 L54.20,136.19 L54.38,135.65 L54.57,135.11 L54.75,134.56 L54.93,134.02 L55.11,133.48 L55.29,132.93 L55.47,132.39 L55.66,131.85 L55.84,131.32 L56.02,130.78 L56.20,130.25 L56.38,129.72 L56.56,129.20 L56.74,128.68 L56.93,128.16 L57.11,127.65 L57.29,127.14 L57.47,126.64 L57.65,126.14 L57.83,125.65 L58.02,125.17 L58.20,124.69 L58.38,124.21 L58.56,123.75 L58.74,123.29 L58.92,122.83 L59.11,122.39 L59.29,121.94 L59.47,121.51 L59.65,121.08 L59.83,120.66 L60.01,120.25 L60.20,119.84 L60.38,119.44 L60.56,119.05 L60.74,118.67 L60.92,118.29 L61.10,117.92 L61.28,117.55 L61.47,117.20 L61.65,116.85 L61.83,116.50 L62.01,116.17 L62.19,115.84 L62.37,115.52 L62.56,115.20 L62.74,114.90 L62.92,114.59 L63.10,114.30 L63.28,114.01 L63.46,113.73 L63.65,113.46 L63.83,113.19 L64.01,112.93 L64.19,112.68 L64.37,112.43 L64.55,112.19 L64.74,111.96 L64.92,111.73 L65.10,111.51 L65.28,111.29 L65.46,111.08 L65.64,110.88 L65.82,110.68 L66.01,110.49 L66.19,110.31 L66.37,110.13 L66.55,109.95 L66.73,109.79 L66.91,109.62 L67.10,109.47 L67.28,109.31 L67.46,109.17 L67.64,109.03 L67.82,108.89 L68.00,108.76 L68.19,108.63 L68.37,108.51 L68.55,108.39 L68.73,108.28 L68.91,108.18 L69.09,108.07 L69.27,107.98 L69.46,107.88 L69.64,107.80 L69.82,107.71 L70.00,107.63 L70.18,107.56 L70.36,107.48 L70.55,107.42 L70.73,107.35 L70.91,107.29 L71.09,107.24 L71.27,107.19 L71.45,107.14 L71.64,107.09 L71.82,107.05 L72.00,107.01 L72.18,106.98 L72.36,106.95 L72.54,106.92 L72.73,106.90 L72.91,106.88 L73.09,106.86 L73.27,106.84 L73.45,106.83 L73.63,106.82 L73.81,106.82 L74.00,106.81 L74.18,106.81 L74.36,106.82 L74.54,106.82 L74.72,106.83 L74.90,106.84 L75.09,106.85 L75.27,106.86 L75.45,106.88 L75.63,106.90 L75.81,106.92 L75.99,106.94 L76.18,106.97 L76.36,107.00 L76.54,107.03 L76.72,107.06 L76.90,107.09 L77.08,107.12 L77.26,107.16 L77.45,107.20 L77.63,107.24 L77.81,107.28 L77.99,107.32 L78.17,107.37 L78.35,107.42 L78.54,107.46 L78.72,107.51 L78.90,107.56 L79.08,107.61 L79.26,107.67 L79.44,107.72 L79.63,107.78 L79.81,107.83 L79.99,107.89 L80.17,107.95 L80.35,108.01 L80.53,108.07 L80.72,108.13 L80.90,108.19 L81.08,108.25 L81.26,108.32 L81.44,108.38 L81.62,108.45 L81.80,108.51 L81.99,108.58 L82.17,108.65 L82.35,108.72 L82.53,108.78 L82.71,108.85 L82.89,108.92 L83.08,108.99 L83.26,109.06 L83.44,109.14 L83.62,109.21 L83.80,109.28 L83.98,109.35 L84.17,109.43 L84.35,109.50 L84.53,109.58 L84.71,109.65 L84.89,109.73 L85.07,109.81 L85.25,109.88 L85.44,109.96 L85.62,110.04 L85.80,110.12 L85.98,110.20 L86.16,110.28 L86.34,110.36 L86.53,110.44 L86.71,110.52 L86.89,110.60 L87.07,110.68 L87.25,110.76 L87.43,110.84 L87.62,110.92 L87.80,111.00 L87.98,111.09 L88.16,111.17 L88.34,111.25 L88.52,111.33 L88.71,111.42 L88.89,111.50 L89.07,111.58 L89.25,111.67 L90.15,112.08 L91.04,112.50 L91.94,112.92 L92.83,113.34 L93.73,113.76 L94.62,114.18 L95.52,114.60 L96.42,115.02 L97.31,115.44 L98.21,115.85 L99.10,116.27 L100.00,116.68 L100.89,117.09 L101.79,117.50 L102.68,117.90 L103.58,118.30 L104.48,118.70 L105.37,119.09 L106.27,119.49 L107.16,119.87 L108.06,120.26 L108.95,120.64 L109.85,121.01 L110.75,121.39 L111.64,121.75 L112.54,122.12 L113.43,122.48 L114.33,122.83 L115.22,123.18 L116.12,123.52 L117.02,123.86 L117.91,124.20 L118.81,124.53 L119.70,124.85 L120.60,125.18 L121.49,125.49 L122.39,125.80 L123.28,126.11 L124.18,126.41 L125.08,126.70 L125.97,126.99 L126.87,127.28 L127.76,127.56 L128.66,127.84 L129.55,128.11 L130.45,128.38 L131.35,128.64 L132.24,128.90 L133.14,129.15 L134.03,129.40 L134.93,129.65 L135.82,129.89 L136.72,130.13 L137.62,130.36 L138.51,130.59 L139.41,130.81 L140.30,131.03 L141.20,131.25 L142.09,131.47 L142.99,131.68 L143.88,131.88 L144.78,132.09 L145.68,132.29 L146.57,132.49 L147.47,132.68 L148.36,132.87 L149.26,133.06 L150.15,133.24 L151.05,133.42 L151.95,133.60 L152.84,133.78 L153.74,133.95 L154.63,134.12 L155.53,134.28 L156.42,134.45 L157.32,134.61 L158.22,134.77 L159.11,134.92 L160.01,135.08 L160.90,135.23 L161.80,135.38 L162.69,135.53 L163.59,135.67 L164.48,135.81 L165.38,135.95 L166.28,136.09 L167.17,136.22 L168.07,136.36 L168.96,136.49 L169.86,136.62 L170.75,136.75 L171.65,136.87 L172.55,136.99 L173.44,137.12 L174.34,137.24 L175.23,137.35 L176.13,137.47 L177.02,137.59 L177.92,137.70 L178.82,137.81 L179.71,137.92 L180.61,138.03 L181.50,138.13 L182.40,138.24 L183.29,138.34 L184.19,138.44 L185.08,138.54 L185.98,138.64 L186.88,138.74 L187.77,138.83 L188.67,138.93 L189.56,139.02 L190.46,139.11 L191.35,139.21 L192.25,139.29 L193.15,139.38 L194.04,139.47 L194.94,139.56 L195.83,139.64 L196.73,139.72 L197.62,139.81 L198.52,139.89 L199.42,139.97 L200.31,140.05 L201.21,140.12 L202.10,140.20 L203.00,140.28 L203.89,140.35 L204.79,140.42 L205.68,140.50 L206.58,140.57 L207.48,140.64 L208.37,140.71 L209.27,140.78 L210.16,140.85 L211.06,140.92 L211.95,140.98 L212.85,141.05 L213.75,141.11 L214.64,141.18 L215.54,141.24 L216.43,141.30 L217.33,141.36 L218.22,141.42 L219.12,141.48 L220.02,141.54 L220.91,141.60 L221.81,141.66 L222.70,141.72 L223.60,141.77 L224.49,141.83 L225.39,141.88 L226.28,141.94 L227.18,141.99 L228.08,142.04 L228.97,142.10 L229.87,142.15 L230.76,142.20 L231.66,142.25 L232.55,142.30 L233.45,142.35 L234.35,142.40 L235.24,142.45 L236.14,142.49 L237.03,142.54 L237.93,142.59 L238.82,142.63 L239.72,142.68 L240.62,142.73 L241.51,142.77 L242.41,142.81 L243.30,142.86 L244.20,142.90 L245.09,142.94 L245.99,142.98 L246.88,143.03 L247.78,143.07 L248.68,143.11 L249.57,143.15 L250.47,143.19 L251.36,143.23 L252.26,143.27 L253.15,143.30 L254.05,143.34 L254.95,143.38 L255.84,143.42 L256.74,143.45 L257.63,143.49 L258.53,143.53 L259.42,143.56 L260.32,143.60 L261.22,143.63 L262.11,143.67 L263.01,143.70 L263.90,143.73 L264.80,143.77 L265.69,143.80 L266.59,143.83 L267.48,143.87 L268.38,143.90 L269.28,143.93 L270.17,143.96 L271.07,143.99 L271.96,144.02 L272.86,144.05 L273.75,144.08 L274.65,144.11 L275.55,144.14 L276.44,144.17 L277.34,144.20 L278.23,144.23 L279.13,144.26 L280.02,144.29 L280.92,144.31 L281.82,144.34 L282.71,144.37 L283.61,144.40 L284.50,144.42 L285.40,144.45 L286.29,144.47 L287.19,144.50 L288.08,144.53 L288.98,144.55 L289.88,144.58 L290.77,144.60 L291.67,144.63 L292.56,144.65 L293.46,144.68 L294.35,144.70 L295.25,144.72 L296.15,144.75 L297.04,144.77 L297.94,144.79 L298.83,144.82 L299.73,144.84 L300.62,144.86 L301.52,144.88 L302.42,144.91 L303.31,144.93 L304.21,144.95 L305.10,144.97 L306.00,144.99 L306.89,145.01 L307.79,145.03 L308.68,145.06 L309.58,145.08 L310.48,145.10 L311.37,145.12 L312.27,145.14 L313.16,145.16 L314.06,145.18 L314.95,145.20 L315.85,145.22 L316.75,145.23 L317.64,145.25 L318.54,145.27 L319.43,145.29 L320.33,145.31 L321.22,145.33 L322.12,145.35 L323.02,145.36 L323.91,145.38 L324.81,145.40 L325.70,145.42 L326.60,145.43 L327.49,145.45 L328.39,145.47 L329.28,145.49 L330.18,145.50 L331.08,145.52 L331.97,145.54 L332.87,145.55 L333.76,145.57 L334.66,145.58 L335.55,145.60 L336.45,145.62 L337.35,145.63 L338.24,145.65 L339.14,145.66 L340.03,145.68 L340.93,145.69 L341.82,145.71 L342.72,145.72 L343.62,145.74 L344.51,145.75 L345.41,145.77 L346.30,145.78 L347.20,145.80 L348.09,145.81 L348.99,145.82 L349.88,145.84 L350.78,145.85 L351.68,145.87 L352.57,145.88 L353.47,145.89 L354.36,145.91 L355.26,145.92 L356.15,145.93 L357.05,145.95" stroke="#800080" stroke-width="2.7" stroke-dasharray="11.4 7.4 4.9 8.0 4.9 7.4" stroke-dashoffset="19.63"/>
</g>
<path d="M42.15,16.5H357.3M42.15,211.5H357.3" fill="none" stroke="#505050" stroke-width="0.7"/>
<path d="M42.5,16.5V211.5" fill="none" stroke="#505050" stroke-width="0.62"/>
<path d="M357.0,16.5V211.5" fill="none" stroke="#505050" stroke-width="0.44"/>
<path d="M49.08,211.5v-2.2M49.08,16.5v2.2M62.47,211.5v-2.2M62.47,16.5v2.2M75.86,211.5v-2.2M75.86,16.5v2.2M89.25,211.5v-3.9M89.25,16.5v3.9M102.64,211.5v-2.2M102.64,16.5v2.2M116.03,211.5v-2.2M116.03,16.5v2.2M129.42,211.5v-2.2M129.42,16.5v2.2M142.81,211.5v-2.2M142.81,16.5v2.2M156.20,211.5v-3.9M156.20,16.5v3.9M169.59,211.5v-2.2M169.59,16.5v2.2M182.98,211.5v-2.2M182.98,16.5v2.2M196.37,211.5v-2.2M196.37,16.5v2.2M209.76,211.5v-2.2M209.76,16.5v2.2M223.15,211.5v-3.9M223.15,16.5v3.9M236.54,211.5v-2.2M236.54,16.5v2.2M249.93,211.5v-2.2M249.93,16.5v2.2M263.32,211.5v-2.2M263.32,16.5v2.2M276.71,211.5v-2.2M276.71,16.5v2.2M290.10,211.5v-3.9M290.10,16.5v3.9M303.49,211.5v-2.2M303.49,16.5v2.2M316.88,211.5v-2.2M316.88,16.5v2.2M330.27,211.5v-2.2M330.27,16.5v2.2M343.66,211.5v-2.2M343.66,16.5v2.2M42.5,202.05h2.2M357.0,202.05h-2.2M42.5,192.60h2.2M357.0,192.60h-2.2M42.5,183.15h2.2M357.0,183.15h-2.2M42.5,173.70h3.9M357.0,173.70h-3.9M42.5,164.25h2.2M357.0,164.25h-2.2M42.5,154.80h2.2M357.0,154.80h-2.2M42.5,145.35h2.2M357.0,145.35h-2.2M42.5,135.90h3.9M357.0,135.90h-3.9M42.5,126.45h2.2M357.0,126.45h-2.2M42.5,117.00h2.2M357.0,117.00h-2.2M42.5,107.55h2.2M357.0,107.55h-2.2M42.5,98.10h3.9M357.0,98.10h-3.9M42.5,88.65h2.2M357.0,88.65h-2.2M42.5,79.20h2.2M357.0,79.20h-2.2M42.5,69.75h2.2M357.0,69.75h-2.2M42.5,60.30h3.9M357.0,60.30h-3.9M42.5,50.85h2.2M357.0,50.85h-2.2M42.5,41.40h2.2M357.0,41.40h-2.2M42.5,31.95h2.2M357.0,31.95h-2.2M42.5,22.50h3.9M357.0,22.50h-3.9" fill="none" stroke="#505050" stroke-width="0.6"/>
<rect x="219.5" y="25.0" width="132.0" height="81.5" fill="#fff"/>
<path d="M221.95,85.56 L222.04,85.11 L222.14,84.72 L222.23,84.39 L222.33,84.11 L222.42,83.89 L222.52,83.73 L222.61,83.62 L222.71,83.57 L222.80,83.57 L222.90,83.62 L222.99,83.72 L223.09,83.87 L223.18,84.06 L223.28,84.29 L223.37,84.57 L223.46,84.87 L223.56,85.22 L223.65,85.59 L223.75,85.99 L223.84,86.41 L223.94,86.86 L224.03,87.33 L224.13,87.82 L224.22,88.32 L224.32,88.83 L224.41,89.36 L224.51,89.89 L224.60,90.43 L224.70,90.98 L224.79,91.52 L224.89,92.07 L224.98,92.62 L225.08,93.16 L225.17,93.70 L225.26,94.23 L225.36,94.76 L225.45,95.28 L225.55,95.79 L225.64,96.29 L225.74,96.78 L225.83,97.26 L225.93,97.72 L226.02,98.18 L226.12,98.61 L226.21,99.04 L226.31,99.44 L226.40,99.84 L226.50,100.21 L226.59,100.57 L226.69,100.91 L226.78,101.24 L226.87,101.55 L226.97,101.84 L227.06,102.11 L227.16,102.37 L227.25,102.61 L227.35,102.83 L227.44,103.04 L227.54,103.22 L227.63,103.39 L227.73,103.55 L227.82,103.69 L227.92,103.81 L228.01,103.91 L228.11,104.00 L228.20,104.07 L228.30,104.13 L228.39,104.17 L228.49,104.20 L228.58,104.21 L228.67,104.21 L228.77,104.19 L228.86,104.17 L228.96,104.12 L229.05,104.07 L229.15,104.00 L229.24,103.92 L229.34,103.83 L229.43,103.73 L229.53,103.62 L229.62,103.50 L229.72,103.36 L229.81,103.22 L229.91,103.07 L230.00,102.91 L230.10,102.74 L230.19,102.56 L230.29,102.38 L230.38,102.19 L230.47,101.99 L230.57,101.78 L230.66,101.57 L230.76,101.35 L230.85,101.13 L230.95,100.90 L231.04,100.66 L231.14,100.42 L231.23,100.18 L231.33,99.93 L231.42,99.68 L231.52,99.42 L231.61,99.16 L231.71,98.90 L231.80,98.63 L231.90,98.37 L231.99,98.10 L232.08,97.82 L232.18,97.55 L232.27,97.27 L232.37,96.99 L232.46,96.71 L232.56,96.43 L232.65,96.14 L232.75,95.86 L232.84,95.57 L232.94,95.29 L233.03,95.00 L233.13,94.71 L233.22,94.42 L233.32,94.13 L233.41,93.84 L233.51,93.55 L233.60,93.26 L233.70,92.97 L233.79,92.68 L233.88,92.39 L233.98,92.10 L234.07,91.82 L234.17,91.53 L234.26,91.24 L234.36,90.95 L234.45,90.66 L234.55,90.37 L234.64,90.09 L234.74,89.80 L234.83,89.51 L234.93,89.23 L235.02,88.94 L235.12,88.66 L235.21,88.37 L235.31,88.09 L235.40,87.81 L235.50,87.53 L235.59,87.24 L235.68,86.96 L235.78,86.68 L235.87,86.41 L235.97,86.13 L236.06,85.85 L236.16,85.57 L236.25,85.30 L236.35,85.02 L236.44,84.75 L236.54,84.48 L236.63,84.20 L236.73,83.93 L236.82,83.66 L236.92,83.39 L237.01,83.12 L237.11,82.85 L237.20,82.59 L237.30,82.32 L237.39,82.05 L237.48,81.79 L237.58,81.53 L237.67,81.26 L237.77,81.00 L237.86,80.74 L237.96,80.48 L238.05,80.22 L238.15,79.96 L238.24,79.70 L238.34,79.45 L238.43,79.19 L238.53,78.94 L238.62,78.69 L238.72,78.43 L238.81,78.18 L238.91,77.93 L239.00,77.68 L239.09,77.43 L239.19,77.19 L239.28,76.94 L239.38,76.69 L239.47,76.45 L239.57,76.21 L239.66,75.96 L239.76,75.72 L239.85,75.48 L239.95,75.24 L240.04,75.01 L240.14,74.77 L240.23,74.53 L240.33,74.30 L240.42,74.06 L240.52,73.83 L240.61,73.60 L240.71,73.37 L240.80,73.14 L241.35,71.83 L241.90,70.57 L242.44,69.33 L242.99,68.14 L243.54,66.98 L244.09,65.86 L244.64,64.78 L245.18,63.73 L245.73,62.72 L246.28,61.74 L246.83,60.79 L247.38,59.87 L247.92,58.98 L248.47,58.13 L249.02,57.30 L249.57,56.50 L250.12,55.72 L250.67,54.97 L251.21,54.25 L251.76,53.55 L252.31,52.87 L252.86,52.21 L253.41,51.58 L253.95,50.97 L254.50,50.37 L255.05,49.80 L255.60,49.24 L256.15,48.70 L256.69,48.18 L257.24,47.67 L257.79,47.18 L258.34,46.70 L258.89,46.24 L259.43,45.79 L259.98,45.36 L260.53,44.94 L261.08,44.53 L261.63,44.13 L262.17,43.74 L262.72,43.37 L263.27,43.01 L263.82,42.65 L264.37,42.31 L264.92,41.98 L265.46,41.65 L266.01,41.34 L266.56,41.03 L267.11,40.73 L267.66,40.44 L268.20,40.16 L268.75,39.88 L269.30,39.62 L269.85,39.35 L270.40,39.10 L270.94,38.85 L271.49,38.61 L272.04,38.38 L272.59,38.15 L273.14,37.92 L273.68,37.71 L274.23,37.49 L274.78,37.29 L275.33,37.09 L275.88,36.89 L276.42,36.70 L276.97,36.51 L277.52,36.33 L278.07,36.15 L278.62,35.97 L279.17,35.80 L279.71,35.63 L280.26,35.47 L280.81,35.31 L281.36,35.16 L281.91,35.00 L282.45,34.85 L283.00,34.71 L283.55,34.57 L284.10,34.43 L284.65,34.29 L285.19,34.16 L285.74,34.03 L286.29,33.90 L286.84,33.77 L287.39,33.65 L287.93,33.53 L288.48,33.41 L289.03,33.30 L289.58,33.19 L290.13,33.08 L290.67,32.97 L291.22,32.86 L291.77,32.76 L292.32,32.66 L292.87,32.56 L293.41,32.46 L293.96,32.36 L294.51,32.27 L295.06,32.18 L295.61,32.09 L296.16,32.00 L296.70,31.91 L297.25,31.83 L297.80,31.74 L298.35,31.66 L298.90,31.58 L299.44,31.50 L299.99,31.42 L300.54,31.35 L301.09,31.27 L301.64,31.20 L302.18,31.12 L302.73,31.05 L303.28,30.98 L303.83,30.92 L304.38,30.85 L304.92,30.78 L305.47,30.72 L306.02,30.65 L306.57,30.59 L307.12,30.53 L307.66,30.47 L308.21,30.41 L308.76,30.35 L309.31,30.29 L309.86,30.23 L310.41,30.18 L310.95,30.12 L311.50,30.07 L312.05,30.02 L312.60,29.96 L313.15,29.91 L313.69,29.86 L314.24,29.81 L314.79,29.76 L315.34,29.71 L315.89,29.67 L316.43,29.62 L316.98,29.57 L317.53,29.53 L318.08,29.48 L318.63,29.44 L319.17,29.39 L319.72,29.35 L320.27,29.31 L320.82,29.27 L321.37,29.23 L321.91,29.19 L322.46,29.15 L323.01,29.11 L323.56,29.07 L324.11,29.03 L324.66,28.99 L325.20,28.96 L325.75,28.92 L326.30,28.89 L326.85,28.85 L327.40,28.82 L327.94,28.78 L328.49,28.75 L329.04,28.71 L329.59,28.68 L330.14,28.65 L330.68,28.62 L331.23,28.59 L331.78,28.55 L332.33,28.52 L332.88,28.49 L333.42,28.46 L333.97,28.43 L334.52,28.40 L335.07,28.38 L335.62,28.35 L336.16,28.32 L336.71,28.29 L337.26,28.26 L337.81,28.24 L338.36,28.21 L338.91,28.18 L339.45,28.16 L340.00,28.13 L340.55,28.11 L341.10,28.08 L341.65,28.06 L342.19,28.03 L342.74,28.01 L343.29,27.99 L343.84,27.96 L344.39,27.94 L344.93,27.92 L345.48,27.89 L346.03,27.87 L346.58,27.85 L347.13,27.83 L347.67,27.81 L348.22,27.79 L348.77,27.77 L349.32,27.74 L349.87,27.72" fill="none" stroke="#000" stroke-width="2.6" stroke-linejoin="round" stroke-linecap="butt" clip-path="url(#ci)"/>
<path d="M219.5,25.0H351.5V106.5H219.5ZM224.64,106.5v-1.5M224.64,25.0v1.5M230.03,106.5v-1.5M230.03,25.0v1.5M235.41,106.5v-1.5M235.41,25.0v1.5M240.80,106.5v-2.6M240.80,25.0v2.6M246.19,106.5v-1.5M246.19,25.0v1.5M251.57,106.5v-1.5M251.57,25.0v1.5M256.96,106.5v-1.5M256.96,25.0v1.5M262.34,106.5v-1.5M262.34,25.0v1.5M267.73,106.5v-2.6M267.73,25.0v2.6M273.12,106.5v-1.5M273.12,25.0v1.5M278.50,106.5v-1.5M278.50,25.0v1.5M283.89,106.5v-1.5M283.89,25.0v1.5M289.27,106.5v-1.5M289.27,25.0v1.5M294.66,106.5v-2.6M294.66,25.0v2.6M300.05,106.5v-1.5M300.05,25.0v1.5M305.43,106.5v-1.5M305.43,25.0v1.5M310.82,106.5v-1.5M310.82,25.0v1.5M316.20,106.5v-1.5M316.20,25.0v1.5M321.59,106.5v-2.6M321.59,25.0v2.6M326.98,106.5v-1.5M326.98,25.0v1.5M332.36,106.5v-1.5M332.36,25.0v1.5M337.75,106.5v-1.5M337.75,25.0v1.5M343.13,106.5v-1.5M343.13,25.0v1.5M348.52,106.5v-2.6M348.52,25.0v2.6M219.5,106.24h1.5M351.5,106.24h-1.5M219.5,102.40h1.5M351.5,102.40h-1.5M219.5,98.57h1.5M351.5,98.57h-1.5M219.5,94.73h1.5M351.5,94.73h-1.5M219.5,90.90h2.6M351.5,90.90h-2.6M219.5,87.07h1.5M351.5,87.07h-1.5M219.5,83.23h1.5M351.5,83.23h-1.5M219.5,79.40h1.5M351.5,79.40h-1.5M219.5,75.56h1.5M351.5,75.56h-1.5M219.5,71.73h2.6M351.5,71.73h-2.6M219.5,67.90h1.5M351.5,67.90h-1.5M219.5,64.06h1.5M351.5,64.06h-1.5M219.5,60.23h1.5M351.5,60.23h-1.5M219.5,56.39h1.5M351.5,56.39h-1.5M219.5,52.56h2.6M351.5,52.56h-2.6M219.5,48.73h1.5M351.5,48.73h-1.5M219.5,44.89h1.5M351.5,44.89h-1.5M219.5,41.06h1.5M351.5,41.06h-1.5M219.5,37.22h1.5M351.5,37.22h-1.5M219.5,33.39h2.6M351.5,33.39h-2.6M219.5,29.56h1.5M351.5,29.56h-1.5M219.5,25.72h1.5M351.5,25.72h-1.5" fill="none" stroke="#666" stroke-width="0.6"/>
<text x="39.0" y="26.7" font-size="12.7" text-anchor="end" font-family="Liberation Serif" font-weight="bold" font-style="italic" fill="#000" >.0</text>
<text x="30.3" y="26.7" font-size="12.7" text-anchor="end" font-family="Liberation Serif" font-weight="bold" font-style="italic" fill="#000" >1</text>
<text x="39.0" y="64.5" font-size="12.7" text-anchor="end" font-family="Liberation Serif" font-weight="bold" font-style="italic" fill="#000" >0.8</text>
<text x="39.0" y="102.3" font-size="12.7" text-anchor="end" font-family="Liberation Serif" font-weight="bold" font-style="italic" fill="#000" >0.6</text>
<text x="39.0" y="140.1" font-size="12.7" text-anchor="end" font-family="Liberation Serif" font-weight="bold" font-style="italic" fill="#000" >0.4</text>
<text x="39.0" y="177.9" font-size="12.7" text-anchor="end" font-family="Liberation Serif" font-weight="bold" font-style="italic" fill="#000" >0.2</text>
<text x="39.0" y="215.7" font-size="12.7" text-anchor="end" font-family="Liberation Serif" font-weight="bold" font-style="italic" fill="#000" >0.0</text>
<text x="89.2" y="225.5" font-size="12.7" text-anchor="middle" font-family="Liberation Serif" font-weight="bold" font-style="italic" fill="#000" >1</text>
<text x="156.1" y="225.5" font-size="12.7" text-anchor="middle" font-family="Liberation Serif" font-weight="bold" font-style="italic" fill="#000" >2</text>
<text x="223.1" y="225.5" font-size="12.7" text-anchor="middle" font-family="Liberation Serif" font-weight="bold" font-style="italic" fill="#000" >3</text>
<text x="290.0" y="225.5" font-size="12.7" text-anchor="middle" font-family="Liberation Serif" font-weight="bold" font-style="italic" fill="#000" >4</text>
<text x="356.9" y="225.5" font-size="12.7" text-anchor="middle" font-family="Liberation Serif" font-weight="bold" font-style="italic" fill="#000" >5</text>
<text x="180.0" y="246.0" font-size="12" text-anchor="start" textLength="39.4" lengthAdjust="spacingAndGlyphs" font-family="Liberation Serif" font-weight="bold" font-style="italic" fill="#000" >E(GeV)</text>
<text x="133.0" y="9.6" font-size="10.5" text-anchor="start" font-family="Liberation Serif" font-weight="bold" font-style="italic" fill="#000" >ν</text>
<text x="137.5" y="11.899999999999999" font-size="7.5" text-anchor="start" font-family="Liberation Serif" font-weight="bold" font-style="italic" fill="#000" >e</text>
<path d="M143.39999999999998,7.9H150.60000000000002" stroke="#000" stroke-width="1.2" fill="none"/>
<path d="M151.8,7.9l-3.1,-2.2q0.9,2.2 0,4.4z" fill="#000"/>
<path d="M142.2,7.9l3.1,-2.2q-0.9,2.2 0,4.4z" fill="#000"/>
<text x="153.4" y="9.6" font-size="10.5" text-anchor="start" font-family="Liberation Serif" font-weight="bold" font-style="italic" fill="#000" >ν</text>
<text x="158.1" y="11.899999999999999" font-size="7.5" text-anchor="start" font-family="Liberation Serif" font-weight="bold" font-style="italic" fill="#000" >μ</text>
<text x="168.0" y="9.6" font-size="10" text-anchor="start" textLength="49.6" lengthAdjust="spacingAndGlyphs" font-family="Liberation Serif" font-weight="bold" font-style="italic" fill="#000" >oscillations</text>
<text x="222.3" y="9.6" font-size="10" text-anchor="start" textLength="7.6" lengthAdjust="spacingAndGlyphs" font-family="Liberation Serif" font-weight="bold" font-style="italic" fill="#000" >in</text>
<text x="233.6" y="9.6" font-size="10" text-anchor="start" textLength="33.2" lengthAdjust="spacingAndGlyphs" font-family="Liberation Serif" font-weight="bold" font-style="italic" fill="#000" >vacuum</text>
<g transform="translate(10.4,0) rotate(-90)">
<text x="-179.3" y="0" font-size="12" text-anchor="start" font-family="Liberation Serif" font-weight="bold" font-style="italic" fill="#000" >Prob.</text>
<text x="-148.2" y="0" font-size="12" text-anchor="start" font-family="Liberation Serif" font-weight="bold" font-style="italic" fill="#000" >of</text>
<text x="-134.2" y="0" font-size="12" text-anchor="start" textLength="48.2" lengthAdjust="spacingAndGlyphs" font-family="Liberation Serif" font-weight="bold" font-style="italic" fill="#000" >transition</text>
<text x="-83.6" y="0" font-size="12" text-anchor="start" font-family="Liberation Serif" font-weight="bold" font-style="italic" fill="#000" >ν</text>
<text x="-78.0" y="2.6" font-size="8" text-anchor="start" font-family="Liberation Serif" font-weight="bold" font-style="italic" fill="#000" >e</text>
<path d="M-72.6,-3.0H-64.1" stroke="#000" stroke-width="1.3" fill="none"/>
<path d="M-62.9,-3.0l-4.0,-2.5q0.9,2.5 0,5.0z" fill="#000"/>
<text x="-62.0" y="0" font-size="12" text-anchor="start" font-family="Liberation Serif" font-weight="bold" font-style="italic" fill="#000" >ν</text>
<text x="-56.2" y="2.6" font-size="8" text-anchor="start" font-family="Liberation Serif" font-weight="bold" font-style="italic" fill="#000" >μ</text>
</g>
<text x="216.6" y="36.8" font-size="9.5" text-anchor="end" font-family="Liberation Serif" font-weight="bold" font-style="italic" fill="#000" >0.15</text>
<text x="216.6" y="56.0" font-size="9.5" text-anchor="end" font-family="Liberation Serif" font-weight="bold" font-style="italic" fill="#000" >0.10</text>
<text x="216.6" y="75.1" font-size="9.5" text-anchor="end" font-family="Liberation Serif" font-weight="bold" font-style="italic" fill="#000" >0.05</text>
<text x="216.6" y="94.3" font-size="9.5" text-anchor="end" font-family="Liberation Serif" font-weight="bold" font-style="italic" fill="#000" >0.00</text>
<text x="240.9" y="118.5" font-size="9.5" text-anchor="middle" font-family="Liberation Serif" font-weight="bold" font-style="italic" fill="#000" >1</text>
<text x="267.8" y="118.5" font-size="9.5" text-anchor="middle" font-family="Liberation Serif" font-weight="bold" font-style="italic" fill="#000" >2</text>
<text x="294.8" y="118.5" font-size="9.5" text-anchor="middle" font-family="Liberation Serif" font-weight="bold" font-style="italic" fill="#000" >3</text>
<text x="321.7" y="118.5" font-size="9.5" text-anchor="middle" font-family="Liberation Serif" font-weight="bold" font-style="italic" fill="#000" >4</text>
<text x="348.6" y="118.5" font-size="9.5" text-anchor="middle" font-family="Liberation Serif" font-weight="bold" font-style="italic" fill="#000" >5</text>
<g transform="translate(190.6,0) rotate(-90)">
<text x="-73.0" y="0" font-size="9.5" text-anchor="start" font-family="Liberation Serif" font-weight="bold" font-style="italic" fill="#000" >Δ</text>
<text x="-66.6" y="1.0" font-size="5.8" text-anchor="start" font-family="Liberation Serif" font-weight="bold" font-style="italic" fill="#000" >CP</text>
<text x="-66.2" y="-4.4" font-size="5.8" text-anchor="start" font-family="Liberation Serif" font-weight="bold" font-style="italic" fill="#000" >M</text>
</g>
</svg>
</body></html>
